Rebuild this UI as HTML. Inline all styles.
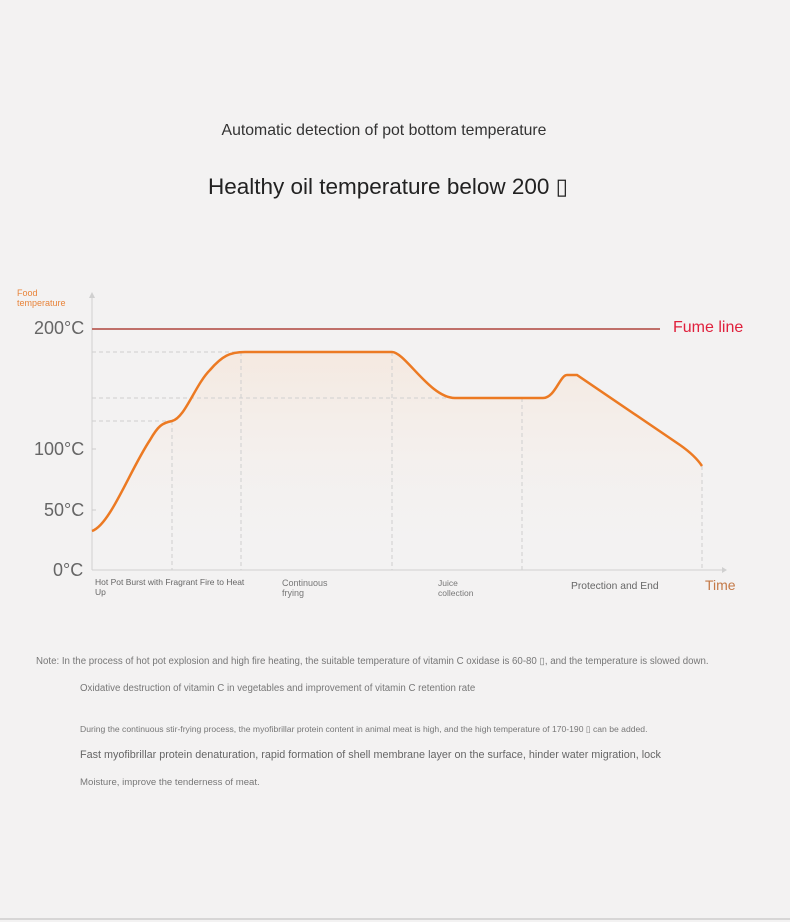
<!DOCTYPE html>
<html><head><meta charset="utf-8"><style>
html,body{margin:0;padding:0;background:#f3f2f2;}
body{width:790px;height:922px;position:relative;overflow:hidden;font-family:"Liberation Sans","Noto Sans CJK SC",sans-serif;}
.t{position:absolute;white-space:nowrap;}
</style></head><body>
<div class="t" style="left:0;width:768px;text-align:center;top:122px;font-size:15.8px;color:#333;">Automatic detection of pot bottom temperature</div>
<div class="t" style="left:0;width:776px;text-align:center;top:174px;font-size:22.5px;color:#222;">Healthy oil temperature below 200 ▯</div>
<svg width="790" height="922" style="position:absolute;left:0;top:0" xmlns="http://www.w3.org/2000/svg">
<defs><linearGradient id="g" x1="0" y1="0" x2="0" y2="1"><stop offset="0" stop-color="#f5e9e0"/><stop offset="1" stop-color="#f3f2f2" stop-opacity="0"/></linearGradient></defs>
<path d="M92,531 C110,525 130,470 150,440 C158,426 162,423 172,421 C185,418 195,385 210,370 C222,356 230,352 245,352 L392,352 C405,352 430,398 455,398 L543,398 C555,398 560,375 567,375 L577,375 L680,445 C690,452 698,460 702,466 L702,570 L92,570Z" fill="url(#g)"/>
<g stroke="#cfcfcf" stroke-dasharray="4,3" stroke-width="1" fill="none">
<line x1="92" y1="352" x2="241" y2="352"/><line x1="92" y1="398" x2="455" y2="398"/><line x1="92" y1="421" x2="172" y2="421"/>
<line x1="172" y1="421" x2="172" y2="570"/><line x1="241" y1="352" x2="241" y2="570"/><line x1="392" y1="352" x2="392" y2="570"/><line x1="522" y1="398" x2="522" y2="570"/><line x1="702" y1="466" x2="702" y2="570"/>
</g>
<line x1="92" y1="295" x2="92" y2="570" stroke="#d0d0d0"/>
<polygon points="89,298 92,292 95,298" fill="#d0d0d0"/>
<line x1="92" y1="570" x2="725" y2="570" stroke="#d0d0d0"/>
<polygon points="722,567 727,570 722,573" fill="#d0d0d0"/>
<line x1="92" y1="449" x2="96" y2="449" stroke="#ccc"/><line x1="92" y1="510" x2="96" y2="510" stroke="#ccc"/>
<line x1="92" y1="329" x2="660" y2="329" stroke="#c0706a" stroke-width="2"/>
<path d="M92,531 C110,525 130,470 150,440 C158,426 162,423 172,421 C185,418 195,385 210,370 C222,356 230,352 245,352 L392,352 C405,352 430,398 455,398 L543,398 C555,398 560,375 567,375 L577,375 L680,445 C690,452 698,460 702,466" fill="none" stroke="#ec7a23" stroke-width="2.5"/>
<line x1="0" y1="919" x2="790" y2="919" stroke="#bbb"/>
</svg>
<div class="t" style="left:17px;top:288px;font-size:9px;line-height:10px;color:#e8843a;">Food<br>temperature</div>
<div class="t" style="left:34px;top:318px;font-size:18px;color:#666;">200°C</div>
<div class="t" style="left:34px;top:439px;font-size:18px;color:#666;">100°C</div>
<div class="t" style="left:44px;top:500px;font-size:18px;color:#666;">50°C</div>
<div class="t" style="left:53px;top:560px;font-size:18px;color:#666;">0°C</div>
<div class="t" style="left:673px;top:319px;font-size:16px;color:#e0203c;">Fume line</div>
<div class="t" style="left:705px;top:577px;font-size:14px;color:#c47a48;">Time</div>
<div class="t" style="left:95px;top:577px;font-size:8.5px;line-height:10px;color:#666;">Hot Pot Burst with Fragrant Fire to Heat<br>Up</div>
<div class="t" style="left:282px;top:578px;font-size:9px;line-height:10px;color:#777;">Continuous<br>frying</div>
<div class="t" style="left:438px;top:578px;font-size:8.5px;line-height:10px;color:#777;">Juice<br>collection</div>
<div class="t" style="left:571px;top:581px;font-size:10.3px;color:#666;">Protection and End</div>
<div class="t" style="left:36px;top:656px;font-size:9.7px;color:#777;">Note: In the process of hot pot explosion and high fire heating, the suitable temperature of vitamin C oxidase is 60-80 ▯, and the temperature is slowed down.</div>
<div class="t" style="left:80px;top:683px;font-size:9.7px;color:#777;">Oxidative destruction of vitamin C in vegetables and improvement of vitamin C retention rate</div>
<div class="t" style="left:80px;top:724px;font-size:8.6px;color:#777;">During the continuous stir-frying process, the myofibrillar protein content in animal meat is high, and the high temperature of 170-190 ▯ can be added.</div>
<div class="t" style="left:80px;top:749px;font-size:10.8px;color:#666;">Fast myofibrillar protein denaturation, rapid formation of shell membrane layer on the surface, hinder water migration, lock</div>
<div class="t" style="left:80px;top:777px;font-size:9.6px;color:#777;">Moisture, improve the tenderness of meat.</div>
</body></html>
